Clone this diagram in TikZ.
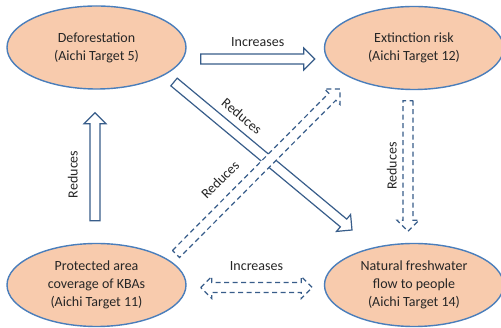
\documentclass[tikz,border=0pt]{standalone}
\usepackage{fontspec}
\setmainfont{Carlito}
\usepackage{tikz}
\usetikzlibrary{shapes,calc,positioning}

\definecolor{peach}{HTML}{F8CBAD}
\definecolor{rimblue}{HTML}{4A7EBB}
\definecolor{arrblue}{HTML}{385D8A}

\tikzset{
  target/.style={ellipse, draw=rimblue, line width=1.4pt, fill=peach,
    minimum width=179pt, minimum height=83pt, inner sep=0pt,
    align=center, text=black!85, font=\fontsize{14}{18}\selectfont},
  blockarr/.style={draw=arrblue, line width=1.2pt, fill=white, line join=miter},
  dasharr/.style={blockarr, dash pattern=on 5pt off 3.5pt},
  lbl/.style={font=\fontsize{14}{17}\selectfont, inner sep=0pt, sloped, text=black!85}
}

% hollow block arrow from #2 to #3
\newcommand{\blockarrow}[3][]{%
  \coordinate (ba-h) at ($(#3)!11pt!(#2)$);
  \draw[blockarr,#1] ($(#2)!5pt!90:(#3)$) -- ($(ba-h)!5pt!90:(#3)$)
    -- ($(ba-h)!11pt!90:(#3)$) -- (#3) -- ($(ba-h)!11pt!-90:(#3)$)
    -- ($(ba-h)!5pt!-90:(#3)$) -- ($(#2)!5pt!-90:(#3)$) -- cycle;
}
% same, with a head at both ends
\newcommand{\twoblockarrow}[3][]{%
  \coordinate (ba-h) at ($(#3)!11pt!(#2)$);
  \coordinate (ba-g) at ($(#2)!11pt!(#3)$);
  \draw[blockarr,#1] (#2) -- ($(ba-g)!11pt!90:(#3)$) -- ($(ba-g)!5pt!90:(#3)$)
    -- ($(ba-h)!5pt!90:(#3)$) -- ($(ba-h)!11pt!90:(#3)$) -- (#3)
    -- ($(ba-h)!11pt!-90:(#3)$) -- ($(ba-h)!5pt!-90:(#3)$)
    -- ($(ba-g)!5pt!-90:(#3)$) -- ($(ba-g)!11pt!-90:(#3)$) -- cycle;
}

\begin{document}
\begin{tikzpicture}[x=1pt, y=-1pt]
    \fill[white] (0,0) rectangle (501,328);
    \useasboundingbox (0,0) rectangle (501,328);

    % the four targets
    \node[target] (defor) at (96.5,47.5) {Deforestation\\(Aichi Target 5)};
    \node[target] (extinct) at (414,48) {Extinction risk\\(Aichi Target 12)};
    \node[target] (protect) at (96.5,285) {Protected area\\coverage of KBAs\\(Aichi Target 11)};
    \node[target] (fresh) at (414,285) {Natural freshwater\\flow to people\\(Aichi Target 14)};

    % arrow ends
    \coordinate (incA) at ($(defor.east)+(14,11.5)$);
    \coordinate (incB) at ($(extinct.west)+(-9,11)$);
    \coordinate (redA) at ($(protect.north)+(-1.5,-22)$);
    \coordinate (redB) at ($(defor.south)+(-1.5,23)$);
    \coordinate (dgA) at ($(defor.center)+(77.5,34.5)$);
    \coordinate (dgB) at ($(fresh.center)+(-62,-55)$);
    \coordinate (dsA) at ($(protect.center)+(79.5,-31)$);
    \coordinate (dsB) at ($(extinct.center)+(-74,41)$);
    \coordinate (rvA) at ($(extinct.south)+(-6,10.5)$);
    \coordinate (rvB) at ($(fresh.north)+(-6,-11.5)$);
    \coordinate (hzA) at ($(protect.east)+(14,2.5)$);
    \coordinate (hzB) at ($(fresh.west)+(-11.5,2.5)$);

    \blockarrow{incA}{incB}
    \blockarrow{redA}{redB}
    \blockarrow{dgA}{dgB}
    \blockarrow[dasharr]{dsA}{dsB}
    \blockarrow[dasharr]{rvA}{rvB}
    \twoblockarrow[dasharr]{hzA}{hzB}

    % labels
    \path (incA) -- (incB) node[lbl, midway, above=12pt] {Increases};
    \path (redA) -- (redB) node[lbl, pos=0.43, above=17pt] {Reduces};
    \path (dgA) -- (dgB) node[lbl, pos=0.32, above=12pt] {Reduces};
    \path (dsA) -- (dsB) node[lbl, pos=0.36, above=16pt] {Reduces};
    \path (rvB) -- (rvA) node[lbl, midway, above=11pt] {Reduces};
    \path (hzA) -- (hzB) node[lbl, midway, above=17pt] {Increases};
\end{tikzpicture}
\end{document}
